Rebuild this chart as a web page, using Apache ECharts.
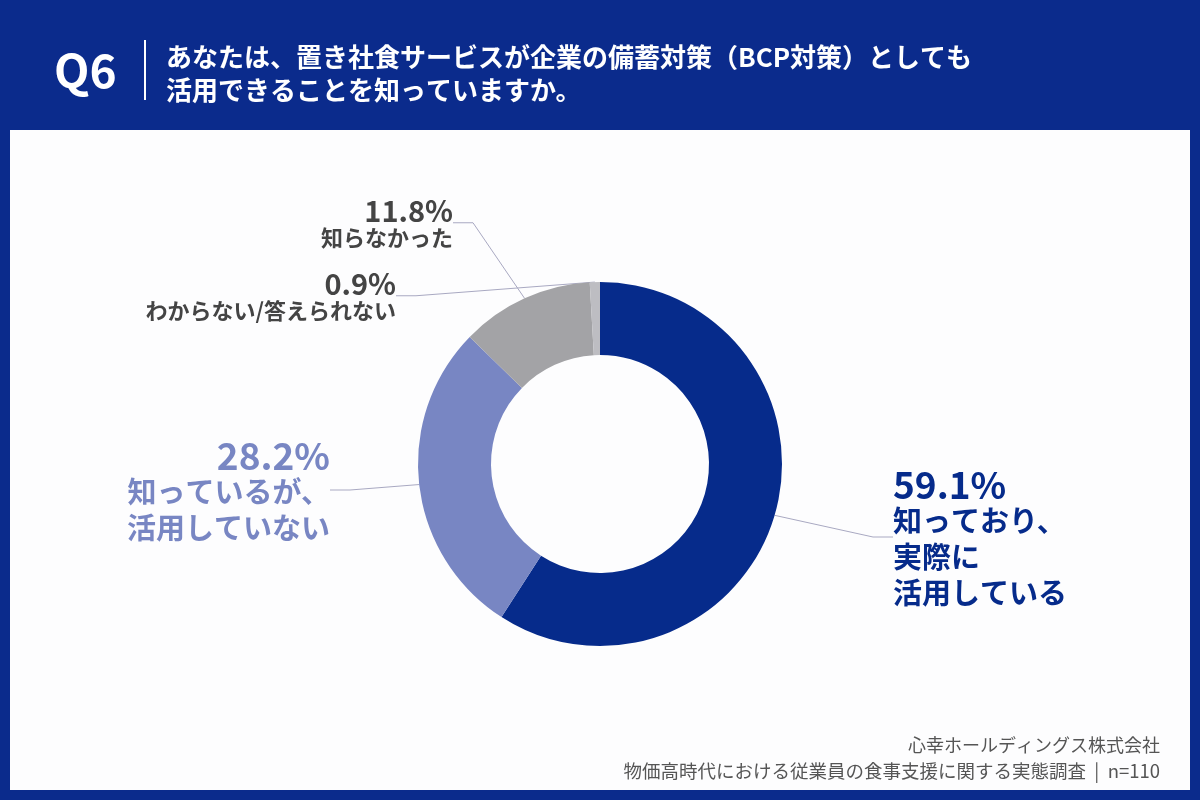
<!DOCTYPE html>
<html>
<head>
<meta charset="utf-8">
<script src="https://cdn.jsdelivr.net/npm/echarts@6/dist/echarts.min.js"></script>
<style>
  html, body { margin: 0; padding: 0; background: #0b2b8c; }
  #chartBox { width: 1200px; height: 800px; }
</style>
</head>
<body>
<div id="chartBox"></div>
<script>
// 回答データ
const categories = ['知っており、\n実際に\n活用している', '知っているが、\n活用していない', '知らなかった', 'わからない/答えられない'];
const values = [59.1, 28.2, 11.8, 0.9];
const colors = ['#062b8b', '#7886c3', '#a3a3a6', '#bdbdc2'];
const labelColors = ['#062b8b', '#7886c3', '#444444', '#444444'];

const font = '"Noto Sans CJK JP", "Noto Sans", sans-serif';

// ラベルの配置（見た目合わせ）
const labelSpots = [
  { x: 893, y: 539, align: 'left' },
  { x: 330, y: 492, align: 'right' },
  { x: 453, y: 224, align: 'right' },
  { x: 396, y: 297, align: 'right' }
];

function richFor(i) {
  const big = i < 2;
  return {
    p: { fontFamily: font, fontWeight: 'bold', fontSize: big ? 37 : 29, lineHeight: big ? 36 : 28, letterSpacing: 1, color: labelColors[i], align: labelSpots[i].align },
    t: { fontFamily: font, fontWeight: 'bold', fontSize: big ? 29 : 22, lineHeight: big ? 36 : 26, color: labelColors[i], align: labelSpots[i].align }
  };
}

let myChart = echarts.init(document.getElementById('chartBox'));

myChart.setOption({
  backgroundColor: '#0b2b8c',
  animation: false,
  graphic: [
    { type: 'rect', shape: { x: 10, y: 130, width: 1180, height: 660 }, style: { fill: '#fdfdfe' }, z: -10 },
    { type: 'text', x: 54, y: 71, style: { text: 'Q6', fontFamily: font, fontWeight: 'bold', fontSize: 46, fill: '#ffffff', verticalAlign: 'middle' } },
    { type: 'rect', shape: { x: 144, y: 40, width: 2, height: 60 }, style: { fill: '#ffffff' } },
    { type: 'text', x: 166, y: 57, style: { text: 'あなたは、置き社食サービスが企業の備蓄対策（BCP対策）としても', fontFamily: font, fontWeight: 'bold', fontSize: 26, fill: '#ffffff', verticalAlign: 'middle' } },
    { type: 'text', x: 166, y: 90, style: { text: '活用できることを知っていますか。', fontFamily: font, fontWeight: 'bold', fontSize: 26, fill: '#ffffff', verticalAlign: 'middle' } },
    { type: 'text', x: 1160, y: 745, style: { text: '心幸ホールディングス株式会社', fontFamily: font, fontSize: 18, fill: '#555555', align: 'right', verticalAlign: 'middle' } },
    { type: 'text', x: 1160, y: 771, style: { text: '物価高時代における従業員の食事支援に関する実態調査  |  n=110', fontFamily: font, fontSize: 18.5, fill: '#555555', align: 'right', verticalAlign: 'middle' } }
  ],
  series: [{
    type: 'pie',
    center: [600, 464],
    radius: [109, 182],
    startAngle: 90,
    clockwise: true,
    avoidLabelOverlap: false,
    data: categories.map(function (name, i) {
      return {
        name: name,
        value: values[i],
        itemStyle: { color: colors[i] },
        label: { rich: richFor(i), align: labelSpots[i].align }
      };
    }),
    label: {
      show: true,
      position: 'outside',
      formatter: function (p) {
        return '{p|' + p.value.toFixed(1) + '%}\n{t|' + p.name.split('\n').join('}\n{t|') + '}';
      }
    },
    labelLine: {
      show: true,
      length: 20,
      length2: 20,
      lineStyle: { color: '#a9a9c2', width: 1 }
    },
    labelLayout: function (params) {
      const s = labelSpots[params.dataIndex];
      return { x: s.x, y: s.y, align: s.align, verticalAlign: 'middle' };
    }
  }]
});
</script>
</body>
</html>
